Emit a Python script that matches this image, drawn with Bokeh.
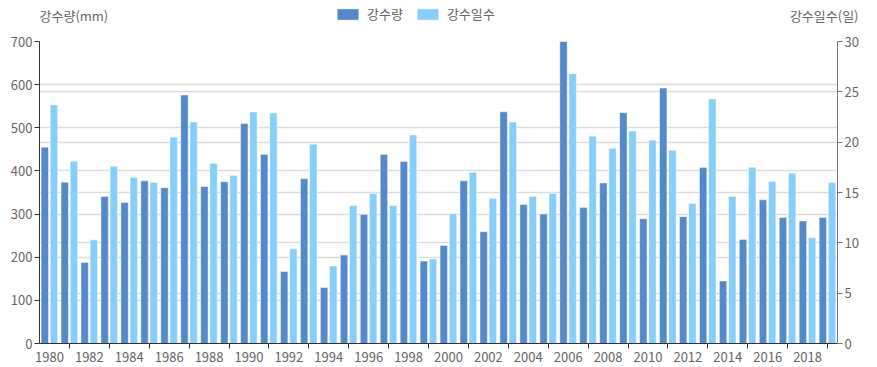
from bokeh.plotting import figure
from bokeh.layouts import column
from bokeh.models import (Range1d, LinearAxis, SingleIntervalTicker, FixedTicker, Grid,
                          Label, Legend, LegendItem, ColumnDataSource)
from bokeh.transform import dodge
from bokeh.embed import file_html
from bokeh.resources import INLINE

years = list(range(1980, 2020))
rain_mm = [455, 374, 188, 341, 327, 377, 361, 576, 364, 375,
           510, 438, 167, 382, 130, 205, 299, 438, 422, 191,
           227, 377, 259, 537, 322, 300, 700, 315, 372, 535,
           289, 592, 294, 408, 145, 241, 333, 292, 284, 292]
rain_days = [23.7, 18.1, 10.3, 17.6, 16.5, 16.0, 20.5, 22.0, 17.9, 16.7,
             23.0, 22.9, 9.4, 19.8, 7.7, 13.7, 14.9, 13.7, 20.7, 8.4,
             12.9, 17.0, 14.4, 22.0, 14.6, 14.9, 26.8, 20.6, 19.4, 21.1,
             20.2, 19.2, 13.9, 24.3, 14.6, 17.5, 16.1, 16.9, 10.5, 16.0]
label_years = [y for y in years if y % 2 == 0]
tick_years = [y for y in years if y % 2 == 1]

series_names = ["강수량", "강수일수"]
left_title = "강수량(mm)"
right_title = "강수일수(일)"

FONT = "Noto Sans CJK KR"
DARK = "#5589C9"
LIGHT = "#87CEFA"
TXT = "#666666"
W, HEAD_H = 877, 33

src = ColumnDataSource(dict(year=years, rain=rain_mm, days=rain_days))

# ---------------- header strip: axis titles + legend ----------------
head = figure(frame_width=W, frame_height=HEAD_H, output_backend="svg", toolbar_location=None,
              x_range=Range1d(0, W), y_range=Range1d(0, HEAD_H),
              x_axis_location=None, y_axis_location=None,
              min_border=0, min_border_left=0, min_border_right=0,
              min_border_top=0, min_border_bottom=0)
head.outline_line_color = None
head.xgrid.visible = False
head.ygrid.visible = False
head.title.visible = False

head.add_layout(Label(x=0, y=HEAD_H - 15, x_units="screen", y_units="screen", text=left_title,
                      text_font=FONT, text_font_size="13px", text_color=TXT,
                      text_baseline="middle", text_align="left"))
head.add_layout(Label(x=819, y=HEAD_H - 15, x_units="screen", y_units="screen", text=right_title,
                      text_font=FONT, text_font_size="13px", text_color=TXT,
                      text_baseline="middle", text_align="right"))

# legend proxies: first data row, lying outside the header's visible range
hsrc = ColumnDataSource(dict(year=years[:1], rain=rain_mm[:1]))
h1 = head.vbar(x="year", top="rain", width=1, source=hsrc,
               fill_color=DARK, line_color="white", line_alpha=0.45)
h2 = head.vbar(x="year", top="rain", width=1, source=hsrc,
               fill_color=LIGHT, line_color="white", line_alpha=0.45)
legend = Legend(items=[LegendItem(label=series_names[0], renderers=[h1]),
                       LegendItem(label=series_names[1], renderers=[h2])],
                orientation="horizontal", location=(334, HEAD_H - 23),
                glyph_width=27, glyph_height=14, label_height=14, label_standoff=6,
                spacing=11, padding=0, margin=0, border_line_color=None,
                background_fill_alpha=0,
                label_text_font=FONT, label_text_font_size="13px", label_text_color=TXT)
head.add_layout(legend, "center")

# ---------------- main chart ----------------
p = figure(frame_width=798, frame_height=302, output_backend="svg", toolbar_location=None,
           x_range=Range1d(years[0] - 0.5, years[-1] + 0.5),
           y_range=Range1d(0, 700),
           min_border_left=39, min_border_right=40, min_border_top=8, min_border_bottom=23)
p.extra_y_ranges = {"days": Range1d(0, 30)}
p.outline_line_color = None
p.title.visible = False

p.vbar(x=dodge("year", -0.235, range=p.x_range), top="rain", width=0.37, source=src,
       fill_color=DARK, line_color="white", line_alpha=0.45, line_width=1)
p.vbar(x=dodge("year", 0.225, range=p.x_range), top="days", width=0.37, source=src,
       y_range_name="days",
       fill_color=LIGHT, line_color="white", line_alpha=0.45, line_width=1)

# x axis
xa = p.xaxis[0]
xa.ticker = FixedTicker(ticks=label_years, minor_ticks=tick_years)
xa.major_tick_line_color = None
xa.major_tick_in = 0
xa.major_tick_out = 5
xa.minor_tick_in = 0
xa.minor_tick_out = 5
xa.minor_tick_line_color = "#333333"
xa.axis_line_color = "#333333"
xa.major_label_standoff = 3
xa.major_label_text_font = FONT
xa.major_label_text_font_size = "13px"
xa.major_label_text_color = TXT
p.xgrid.visible = False

# left axis
ya = p.yaxis[0]
ya.ticker = SingleIntervalTicker(interval=100)
ya.axis_line_color = "#333333"
ya.major_tick_line_color = "#333333"
ya.major_tick_in = 0
ya.major_tick_out = 5
ya.minor_tick_line_color = None
ya.major_label_standoff = 2
ya.major_label_text_font = FONT
ya.major_label_text_font_size = "13px"
ya.major_label_text_color = TXT
p.ygrid.ticker = ya.ticker
p.ygrid.grid_line_color = "#dddddd"
p.ygrid.grid_line_width = 1.3

# right axis
ra = LinearAxis(y_range_name="days", ticker=SingleIntervalTicker(interval=5))
ra.axis_line_color = "#777777"
ra.major_tick_line_color = "#777777"
ra.major_tick_in = 0
ra.major_tick_out = 5
ra.minor_tick_line_color = None
ra.major_label_standoff = 2
ra.major_label_text_font = FONT
ra.major_label_text_font_size = "13px"
ra.major_label_text_color = TXT
p.add_layout(ra, "right")
g2 = Grid(dimension=1, ticker=ra.ticker, y_range_name="days",
          grid_line_color="#dddddd", grid_line_width=1.3)
p.add_layout(g2)

layout = column(head, p, spacing=0)
open("out.html", "w").write(file_html(layout, INLINE))
